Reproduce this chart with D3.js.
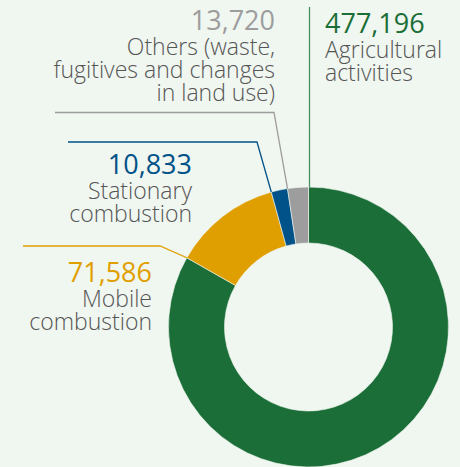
<!DOCTYPE html>
<html>
<head>
<meta charset="utf-8">
<script src="https://cdn.jsdelivr.net/npm/d3@7"></script>
<style>
  html, body { margin: 0; padding: 0; background: #f0f6f0; }
  svg { display: block; }
</style>
</head>
<body>
<div id="chart"></div>
<script>
// emissions by source (tCO2e)
const categories = ["Agricultural activities", "Mobile combustion", "Stationary combustion", "Others"];
const values = [477196, 71586, 10833, 13720];
const valueLabels = ["477,196", "71,586", "10,833", "13,720"];
const nameLines = [
  ["Agricultural", "activities"],
  ["Mobile", "combustion"],
  ["Stationary", "combustion"],
  ["Others (waste,", "fugitives and changes", "in land use)"]
];
const colors = ["#1b6e37", "#e09f00", "#005288", "#9d9d9d"];
const lineColors = ["#4a8f5f", "#e09f00", "#005288", "#9d9d9d"];

const width = 460, height = 467;
const cx = 308.5, cy = 327, outerR = 140, innerR = 84;

const svg = d3.select("#chart")
    .append("svg")
    .attr("width", width)
    .attr("height", height);

const pie = d3.pie().sort(null).value(d => d);
const arcs = pie(values);
const arc = d3.arc().innerRadius(innerR).outerRadius(outerR);

const g = svg.append("g").attr("transform", `translate(${cx},${cy})`);

g.selectAll("path")
  .data(arcs)
  .join("path")
    .attr("d", arc)
    .attr("fill", (d, i) => colors[i])
    .attr("stroke", "#f0f6f0")
    .attr("stroke-width", 0.6);

// text position and where each leader line starts / bends
const labelPos = [
  {x: 325, y: 33, anchor: "start", lineStart: [cx + 1, 7], bend: null},
  {x: 152, y: 281.5, anchor: "end", lineStart: [23, 246], bend: [160, 246]},
  {x: 192, y: 173.5, anchor: "end", lineStart: [68, 142], bend: [257, 142]},
  {x: 275, y: 30, anchor: "end", lineStart: [55, 112.5], bend: [274, 112.5]}
];

// leader lines end at the start edge of each slice on the outer arc
function edgePoint(a) {
  return [cx + outerR * Math.sin(a), cy - outerR * Math.cos(a)];
}

arcs.forEach((d, i) => {
  const p = labelPos[i];
  let pts;
  if (i === 0) {
    pts = [p.lineStart, [cx + 1, cy - outerR]];
  } else {
    pts = [p.lineStart, p.bend, edgePoint(d.startAngle)];
  }
  svg.append("path")
    .attr("d", d3.line()(pts))
    .attr("fill", "none")
    .attr("stroke", lineColors[i])
    .attr("stroke-width", 1.3);

  const t = svg.append("text")
    .attr("font-family", "'Open Sans', sans-serif")
    .attr("text-anchor", p.anchor);
  t.append("tspan")
    .attr("x", p.x)
    .attr("y", p.y)
    .attr("font-size", 27)
    .attr("font-weight", 500)
    .attr("fill", colors[i])
    .text(valueLabels[i]);
  nameLines[i].forEach((s, j) => {
    t.append("tspan")
      .attr("x", p.x)
      .attr("y", p.y + 25 + j * 23)
      .attr("font-size", 23)
      .attr("font-weight", 300)
      .attr("fill", "#555555")
      .text(s);
  });
});
</script>
</body>
</html>
